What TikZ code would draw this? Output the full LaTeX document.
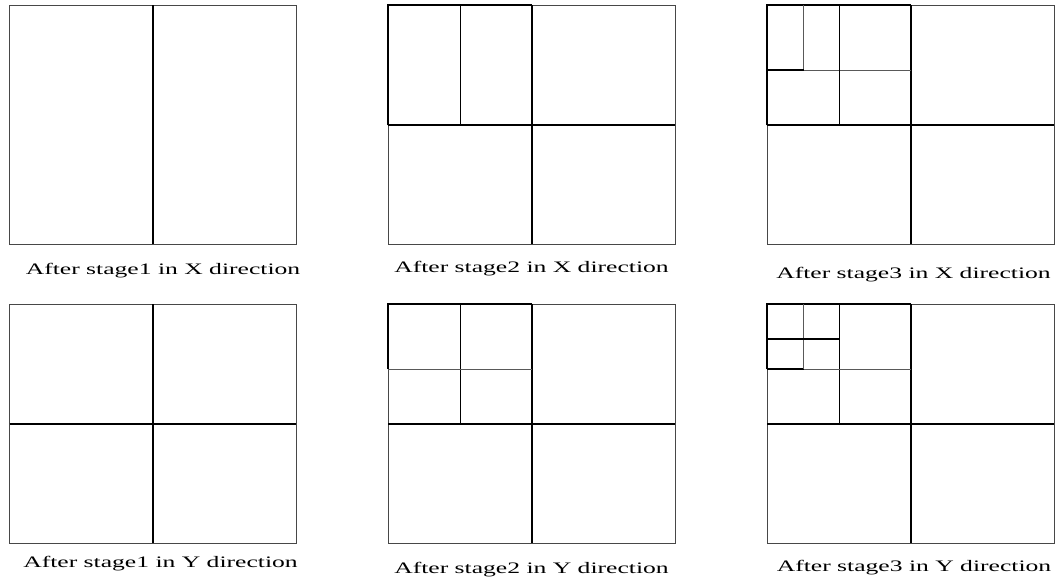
\documentclass[tikz,border=0pt]{standalone}
\usepackage{fontspec}
\setmainfont{Liberation Serif}
\usepackage{graphicx}
\begin{document}
\begin{tikzpicture}[x=1pt,y=-1pt,
  frame/.style={draw=black!72,line width=1pt},
  main/.style={draw=black,line width=2pt},
  sub/.style={draw=black,line width=1.1pt},
  fine/.style={draw=black!65,line width=0.9pt},
  lbl/.style={inner sep=0pt,anchor=base,font=\fontsize{16}{18}\selectfont}]
\useasboundingbox (0,0) rectangle (1062,581);
% ---------- Row 1 (X direction) ----------
% panel 1
\draw[frame] (9.7,5) rectangle (296,244);
\draw[main] (152.7,5) -- (152.7,244);
% panel 2
\draw[frame] (388.3,5) rectangle (675,244);
\draw[main] (532,5) -- (532,244);
\draw[main] (388.3,125.3) -- (675,125.3);
\draw[main] (388.3,125.3) -- (388.3,5) -- (532,5);
\draw[sub] (460.3,5) -- (460.3,125.3);
% panel 3
\draw[frame] (767.3,5) rectangle (1054,244);
\draw[main] (911,5) -- (911,244);
\draw[main] (767.3,125.3) -- (1054,125.3);
\draw[main] (767.3,125.3) -- (767.3,5) -- (911,5);
\draw[fine] (767.3,70) -- (911,70);
\draw[sub] (839.3,5) -- (839.3,125.3);
\draw[fine] (803.7,5) -- (803.7,70);
\draw[sub] (767.3,70) -- (803.7,70);
% ---------- Row 2 (Y direction) ----------
% panel 4
\draw[frame] (9.7,304) rectangle (296,543.3);
\draw[main] (152.7,304) -- (152.7,543.3);
\draw[main] (9.7,423.7) -- (296,423.7);
% panel 5
\draw[frame] (388.3,304) rectangle (675,543.3);
\draw[main] (532,304) -- (532,543.3);
\draw[main] (388.3,423.7) -- (675,423.7);
\draw[main] (388.3,369) -- (388.3,304) -- (532,304);
\draw[sub] (460.3,304) -- (460.3,423.7);
\draw[fine] (388.3,369) -- (532,369);
% panel 6
\draw[frame] (767.3,304) rectangle (1054,543.3);
\draw[main] (911,304) -- (911,543.3);
\draw[main] (767.3,423.7) -- (1054,423.7);
\draw[main] (767.3,369) -- (767.3,304) -- (911,304);
\draw[sub] (839.3,304) -- (839.3,423.7);
\draw[fine] (767.3,369) -- (911,369);
\draw[sub] (767.3,369) -- (803.7,369);
\draw[fine] (803.7,304) -- (803.7,369);
\draw[sub] (767.3,339) -- (839.3,339);
% ---------- Labels ----------
\node[lbl] (l1) at (163,274) {\scalebox{1.6}[1]{After stage1 in X direction}};
\node[lbl] (l2) at (531.5,272) {\scalebox{1.6}[1]{After stage2 in X direction}};
\node[lbl] (l3) at (913.5,278) {\scalebox{1.6}[1]{After stage3 in X direction}};
\node[lbl] (l4) at (160.5,567.5) {\scalebox{1.6}[1]{After stage1 in Y direction}};
\node[lbl] (l5) at (531.5,573) {\scalebox{1.6}[1]{After stage2 in Y direction}};
\node[lbl] (l6) at (914,571.5) {\scalebox{1.6}[1]{After stage3 in Y direction}};
\end{tikzpicture}
\end{document}
